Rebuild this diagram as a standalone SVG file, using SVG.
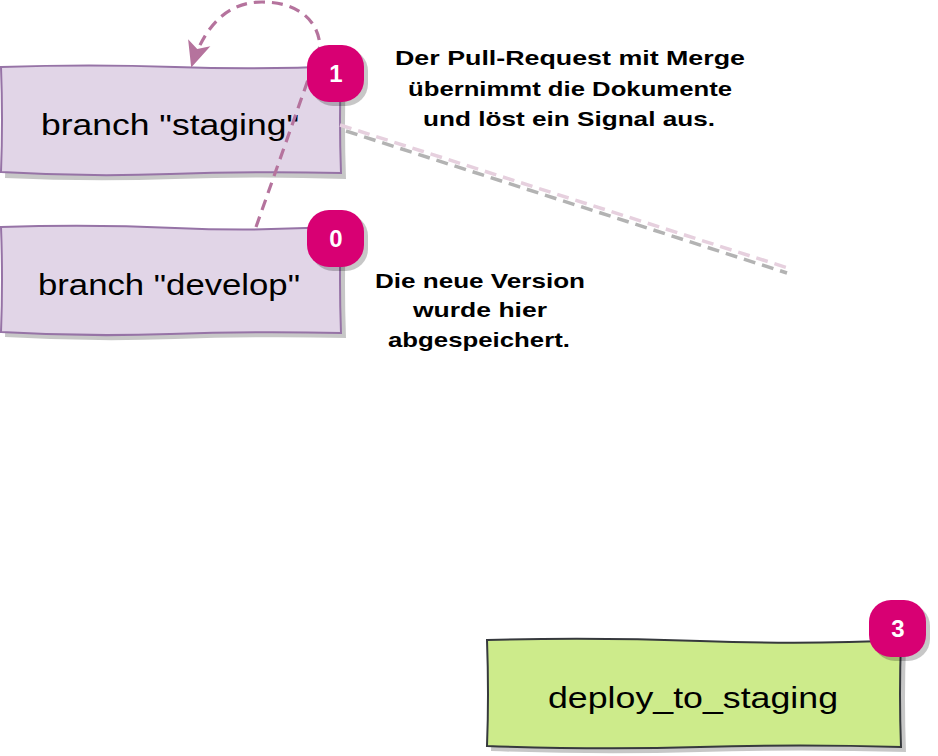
<svg xmlns="http://www.w3.org/2000/svg" width="938" height="756" viewBox="0 0 938 756">
<defs>
<style>
.box-p{fill:#e1d5e7;stroke:#9673a6;stroke-width:2}
.box-g{fill:#cdeb8b;stroke:#36393d;stroke-width:2}
.shadow{fill:#000;opacity:0.22}
.lbl{font-family:"Liberation Sans",Arial,sans-serif;font-size:30px;fill:#000;text-anchor:middle}
.note{font-family:"Liberation Sans",Arial,sans-serif;font-size:21px;font-weight:bold;fill:#000;text-anchor:middle}
.badge{fill:#d80073}
.bshadow{fill:#000;opacity:0.22}
.bnum{font-family:"Liberation Sans",Arial,sans-serif;font-size:24px;font-weight:bold;fill:#fff;text-anchor:middle}
.conn{fill:none;stroke:#b5739d;stroke-width:3.2;stroke-dasharray:11 7}
</style>
<marker id="arr" markerUnits="userSpaceOnUse" markerWidth="26" markerHeight="26" viewBox="0 0 20 20" refX="18" refY="10" orient="auto">
<path d="M0,1 L20,10 L0,19 L5,10 z" fill="#b5739d"/>
</marker>
</defs>

<g id="node-staging">
<path class="shadow" d="M5,72 Q90,69 175,72 T346,71 Q344,125 346,179 Q260,176 175,179 T5,178 Q7,125 5,72 z"/>
<path class="box-p" d="M1,67 Q90,64 175,67 T341,66 Q339,120 341,173 Q255,171 170,174 T1,172 Q3,120 1,67 z"/>
<text class="lbl" x="170" y="135" textLength="258" lengthAdjust="spacingAndGlyphs">branch "staging"</text>
</g>

<g id="node-develop">
<path class="shadow" d="M5,232 Q90,229 175,232 T346,231 Q344,285 346,338 Q260,336 175,339 T5,337 Q7,285 5,232 z"/>
<path class="box-p" d="M1,227 Q90,224 175,228 T341,226 Q339,280 341,333 Q255,331 170,334 T1,332 Q3,280 1,227 z"/>
<text class="lbl" x="169" y="295" textLength="262" lengthAdjust="spacingAndGlyphs">branch "develop"</text>
</g>

<g id="node-deploy">
<path class="shadow" d="M491,645 Q590,642 700,646 T906,645 Q904,700 906,752 Q800,749 700,752 T491,751 Q493,700 491,645 z"/>
<path class="box-g" d="M487,640 Q590,637 700,641 T901,640 Q899,695 901,747 Q800,744 700,747 T487,746 Q489,695 487,640 z"/>
<text class="lbl" x="693" y="708" textLength="290" lengthAdjust="spacingAndGlyphs">deploy_to_staging</text>
</g>

<g id="connectors">
<line x1="346" y1="131" x2="787" y2="273" stroke="#b3b3b3" stroke-width="3.5" stroke-dasharray="12 7"/>
<line x1="340" y1="125" x2="788" y2="268" stroke="#e6d0de" stroke-width="3.5" stroke-dasharray="12 7"/>
<path class="conn" d="M256,227 L320,46 C318,18 295,2 262,2 C228,2 205,25 192,65" marker-end="url(#arr)"/>
</g>

<g id="badge-1">
<rect class="bshadow" x="311" y="49" width="57" height="57" rx="22"/>
<rect class="badge" x="307" y="45" width="57" height="57" rx="22"/>
<text class="bnum" x="336" y="82">1</text>
</g>
<g id="badge-0">
<rect class="bshadow" x="311" y="214" width="57" height="57" rx="22"/>
<rect class="badge" x="307" y="210" width="57" height="57" rx="22"/>
<text class="bnum" x="336" y="247">0</text>
</g>
<g id="badge-3">
<rect class="bshadow" x="873" y="604" width="57" height="57" rx="22"/>
<rect class="badge" x="869" y="600" width="57" height="57" rx="22"/>
<text class="bnum" x="898" y="637">3</text>
</g>

<g id="note-1">
<text class="note" x="570" y="65" textLength="350" lengthAdjust="spacingAndGlyphs">Der Pull-Request mit Merge</text>
<text class="note" x="570" y="96" textLength="324" lengthAdjust="spacingAndGlyphs">übernimmt die Dokumente</text>
<text class="note" x="569" y="126" textLength="292" lengthAdjust="spacingAndGlyphs">und löst ein Signal aus.</text>
</g>
<g id="note-0">
<text class="note" x="480" y="288" textLength="210" lengthAdjust="spacingAndGlyphs">Die neue Version</text>
<text class="note" x="480" y="317" textLength="134" lengthAdjust="spacingAndGlyphs">wurde hier</text>
<text class="note" x="479" y="347" textLength="182" lengthAdjust="spacingAndGlyphs">abgespeichert.</text>
</g>
</svg>
